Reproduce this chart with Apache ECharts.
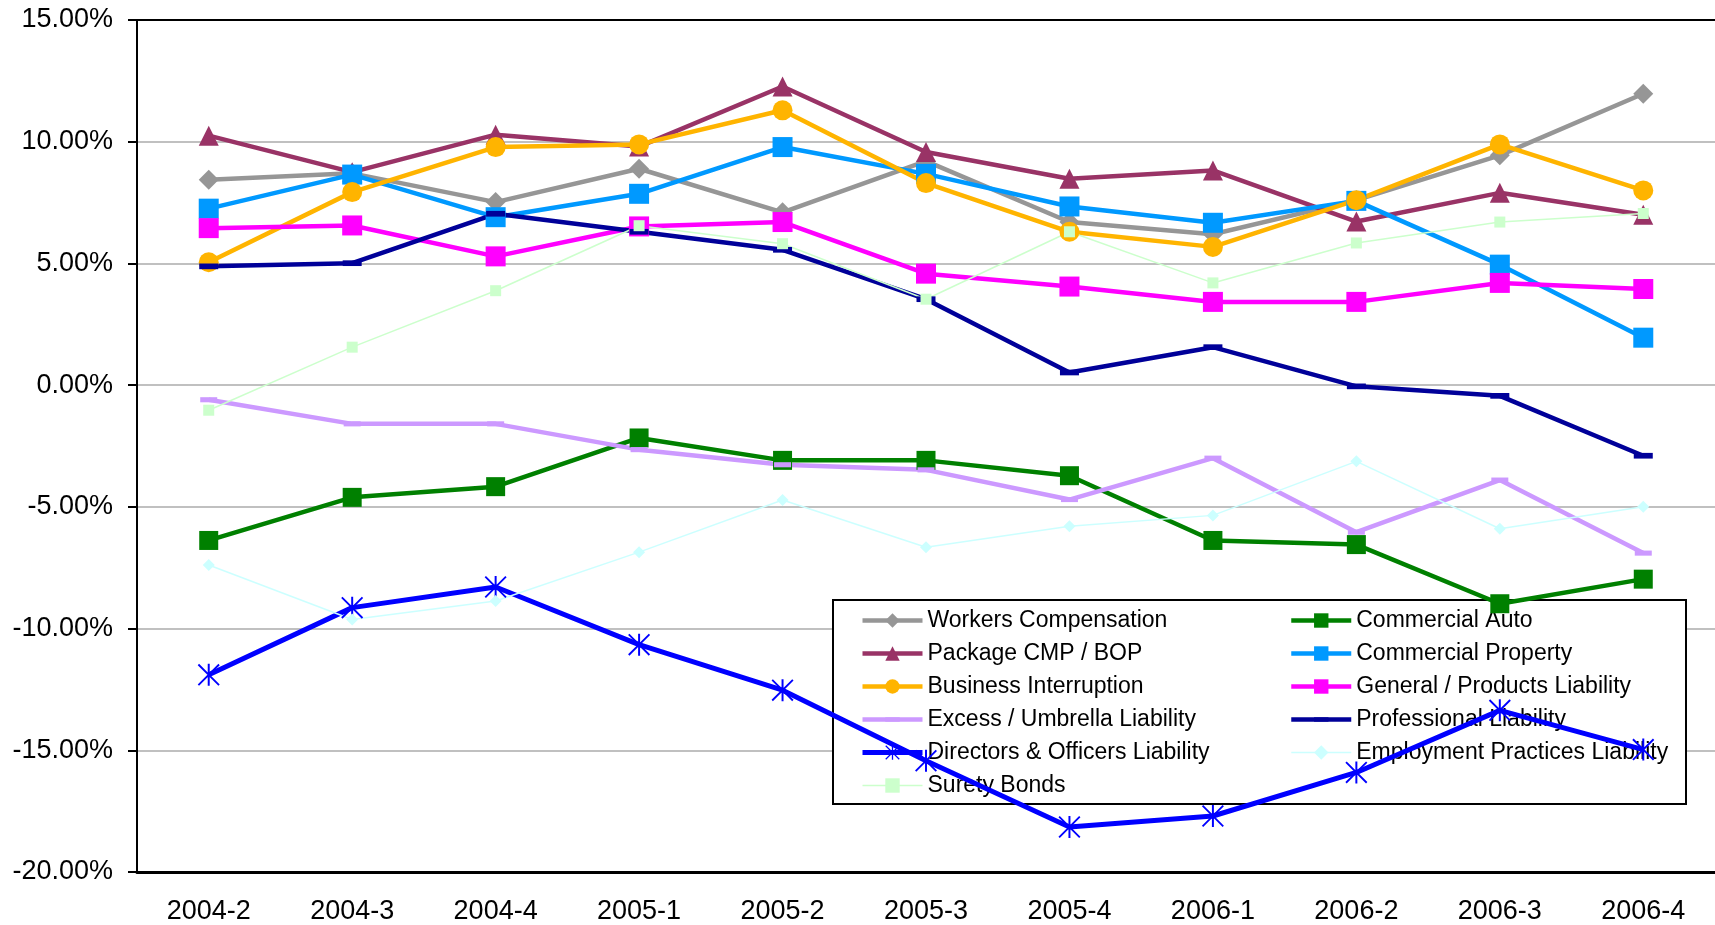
<!DOCTYPE html>
<html>
<head>
<meta charset="utf-8">
<script src="https://cdn.jsdelivr.net/npm/echarts/dist/echarts.min.js"></script>
<style>
html,body{margin:0;padding:0;background:#fff;}
#chart{width:1715px;height:925px;}
</style>
</head>
<body>
<div id="chart"></div>
<script>
// ---- data ----
var categories = ['2004-2','2004-3','2004-4','2005-1','2005-2','2005-3','2005-4','2006-1','2006-2','2006-3','2006-4'];
var yTicks = [-20, -15, -10, -5, 0, 5, 10, 15];

var workersComp    = [8.44, 8.70, 7.52, 8.89, 7.10, 9.20, 6.70, 6.20, 7.60, 9.44, 11.97];
var commercialAuto = [-6.38, -4.61, -4.17, -2.17, -3.09, -3.09, -3.72, -6.38, -6.55, -8.98, -7.97];
var packageCmp     = [10.25, 8.75, 10.29, 9.80, 12.27, 9.58, 8.48, 8.82, 6.72, 7.90, 7.00];
var commProperty   = [7.25, 8.65, 6.90, 7.86, 9.78, 8.68, 7.34, 6.67, 7.57, 4.95, 1.95];
var businessInt    = [5.05, 7.93, 9.78, 9.89, 11.29, 8.30, 6.30, 5.68, 7.60, 9.89, 8.00];
var generalProd    = [6.45, 6.56, 5.29, 6.52, 6.70, 4.58, 4.05, 3.42, 3.42, 4.20, 3.95];
var excessUmb      = [-0.60, -1.59, -1.59, -2.65, -3.27, -3.48, -4.70, -3.00, -6.04, -3.90, -6.90];
var professional   = [4.88, 5.01, 7.04, 6.30, 5.56, 3.53, 0.52, 1.56, -0.05, -0.44, -2.90];
var directorsOff   = [-11.90, -9.14, -8.29, -10.66, -12.53, -15.43, -18.15, -17.70, -15.91, -13.36, -14.97];
var employmentPrac = [-7.39, -9.63, -8.87, -6.86, -4.72, -6.66, -5.80, -5.35, -3.13, -5.90, -5.00];
var suretyBonds    = [-1.03, 1.56, 3.88, 6.55, 5.81, 3.53, 6.30, 4.20, 5.84, 6.70, 7.05];

var seriesNames = ['Workers Compensation','Commercial Auto','Package CMP / BOP','Commercial Property',
  'Business Interruption','General / Products Liability','Excess / Umbrella Liability','Professional Liability',
  'Directors & Officers Liability','Employment Practices Liability','Surety Bonds'];
var seriesValues = [workersComp, commercialAuto, packageCmp, commProperty, businessInt, generalProd,
  excessUmb, professional, directorsOff, employmentPrac, suretyBonds];

// ---- styles ----
var STAR = 'path://M9.1 0H10.9V20H9.1Z M0 1.2L1.2 0L20 18.8L18.8 20Z M18.8 0L20 1.2L1.2 20L0 18.8Z';
var DASH = 'path://M0 0M0 7H20V13H0Z M20 20';
var styles = [
  {color:'#969696', width:4.5, symbol:'diamond', size:20},
  {color:'#008000', width:4.5, symbol:'rect', size:19},
  {color:'#993366', width:4.5, symbol:'triangle', size:20},
  {color:'#0099FF', width:4.5, symbol:'rect', size:20},
  {color:'#FFB400', width:4.5, symbol:'circle', size:20},
  {color:'#FF00FF', width:4.5, symbol:'rect', size:20},
  {color:'#CC99FF', width:4.5, symbol:DASH, size:17},
  {color:'#000099', width:4.5, symbol:DASH, size:19},
  {color:'#0000FF', width:5, symbol:STAR, size:22},
  {color:'#CCFFFF', width:1.5, symbol:'diamond', size:12},
  {color:'#CCFFCC', width:1.5, symbol:'rect', size:11}
];

var FONT = '"Liberation Sans", Arial, sans-serif';

var series = seriesNames.map(function(name, i){
  var s = styles[i];
  return {
    name: name,
    type: 'line',
    xAxisIndex: 0,
    data: seriesValues[i],
    symbol: s.symbol,
    symbolSize: s.size,
    showSymbol: true,
    lineStyle: {color: s.color, width: s.width},
    itemStyle: {color: s.color},
    emphasis: {disabled: true},
    z: 2
  };
});

function legendItems(idx){
  return idx.map(function(i){
    return {name: seriesNames[i], lineStyle: {width: styles[i].width}};
  });
}

var legendCommon = {
  orient: 'vertical',
  itemWidth: 60,
  itemHeight: 18,
  itemGap: 10,
  selectedMode: false,
  z: 1.5,
  textStyle: {fontFamily: FONT, fontSize: 23, lineHeight: 22, color: '#000'}
};

var option = {
  animation: false,
  textStyle: {fontFamily: FONT},
  grid: {left: 137, right: -7, top: 20, bottom: 53, containLabel: false},
  graphic: [{
    type: 'rect',
    z: 1,
    shape: {x: 833, y: 600, width: 853, height: 204},
    style: {fill: '#fff', stroke: '#000', lineWidth: 2}
  }],
  legend: [
    Object.assign({}, legendCommon, {left: 855, top: 604, data: legendItems([0, 2, 4, 6, 8, 10])}),
    Object.assign({}, legendCommon, {left: 1284, top: 604, data: legendItems([1, 3, 5, 7, 9])})
  ],
  xAxis: [{
    type: 'category',
    data: categories,
    boundaryGap: true,
    z: 3,
    axisLine: {onZero: false, lineStyle: {color: '#000', width: 3}},
    axisTick: {show: false},
    axisLabel: {fontFamily: FONT, fontSize: 27, color: '#000', margin: 26},
    splitLine: {show: false}
  }, {
    type: 'category',
    data: categories,
    position: 'top',
    boundaryGap: true,
    z: 3,
    axisLine: {onZero: false, lineStyle: {color: '#000', width: 2}},
    axisTick: {show: false},
    axisLabel: {show: false},
    splitLine: {show: false}
  }],
  yAxis: {
    type: 'value',
    min: yTicks[0],
    max: yTicks[yTicks.length - 1],
    interval: 5,
    axisLine: {show: true, lineStyle: {color: '#000', width: 2}},
    axisTick: {show: true, length: 9, lineStyle: {color: '#000', width: 2}},
    axisLabel: {fontFamily: FONT, fontSize: 27, color: '#000', margin: 24,
      formatter: function(v){ return v.toFixed(2) + '%'; }},
    splitLine: {show: true, lineStyle: {color: '#C0C0C0', width: 2}}
  },
  series: series
};

var chart = echarts.init(document.getElementById('chart'), null, {renderer: 'canvas'});
chart.setOption(option);
</script>
</body>
</html>
